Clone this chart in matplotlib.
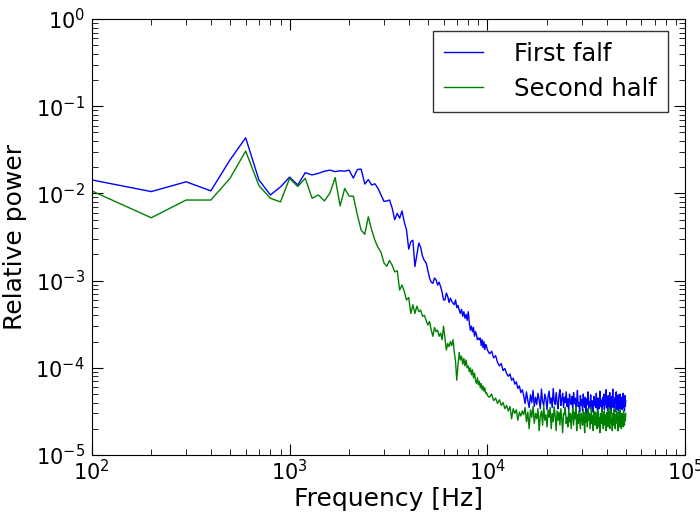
import numpy as np
import matplotlib
matplotlib.use('Agg')
import matplotlib.pyplot as plt

# frequency grid (Hz)
freq = np.concatenate([np.arange(100, 10001, 100), np.arange(10250, 50001, 250)])

# first half, 100 Hz .. 10 kHz
first_low = [0.0143, 0.0105, 0.0136, 0.0107, 0.0242, 0.0435, 0.0143, 0.0096, 0.0119, 0.0154,
             0.0125, 0.0173, 0.0163, 0.0170, 0.0180, 0.0185, 0.0178, 0.0182, 0.0180, 0.0185,
             0.0150, 0.0188, 0.0190, 0.0128, 0.0144, 0.0125, 0.0129, 0.0114, 0.0096, 0.0081,
             0.0082, 0.0084, 0.0068, 0.0050, 0.0059, 0.0052, 0.0063, 0.0047, 0.0038, 0.0023,
             0.0028, 0.0029, 0.00145, 0.0020, 0.0027, 0.0024, 0.0019, 0.0017, 0.0016, 0.0013,
             0.00107, 0.00096, 0.00093, 0.00107, 0.00102, 0.00089, 0.00096, 0.00085, 0.00074, 0.00060,
             0.00060, 0.00072, 0.00066, 0.00056, 0.00063, 0.00058, 0.00055, 0.00053, 0.00060, 0.00049,
             0.00052, 0.00046, 0.00042, 0.00047, 0.00039, 0.00044, 0.00037, 0.00041, 0.00035, 0.00044,
             0.00033, 0.00027, 0.00030, 0.00026, 0.00029, 0.00023, 0.00026, 0.00024, 0.00021, 0.00022,
             0.00021, 0.00022, 0.00018, 0.00021, 0.00017, 0.00020, 0.000162, 0.000185, 0.000175, 0.000160]
# first half, 10.25 kHz .. 50 kHz (units of 1e-5)
first_high = [14.5, 15.5, 13.0, 13.8, 11.5, 10.5, 11.2, 9.3, 9.8, 8.6,
              8.0, 8.5, 7.2, 7.6, 6.5, 6.9, 5.8, 6.2, 5.2, 5.6,
              4.8, 3.9, 5.3, 4.2, 3.5, 4.9, 4.0, 5.5, 3.6, 4.6,
              3.8, 5.1, 4.3, 3.4, 5.7, 4.1, 3.7, 5.0, 4.4, 3.3,
              4.7, 5.4, 3.9, 4.5, 3.5, 5.8, 4.2, 3.8, 5.2, 4.0,
              3.4, 4.9, 5.6, 3.7, 4.3, 5.1, 3.5, 4.6, 4.0, 5.3,
              3.6, 4.4, 3.2, 5.0, 4.1, 3.8, 4.7, 3.3, 5.2, 3.9,
              4.5, 3.4, 4.2, 5.5, 3.6, 4.0, 3.1, 4.8, 3.7, 4.3,
              3.2, 5.0, 3.9, 3.5, 4.6, 3.0, 4.4, 3.8, 5.3, 3.4,
              4.1, 3.6, 4.9, 3.3, 4.2, 3.9, 3.1, 4.7, 3.7, 4.4,
              3.5, 5.1, 3.8, 3.2, 4.5, 4.0, 3.4, 5.4, 3.6, 4.3,
              3.9, 3.1, 4.6, 3.7, 5.0, 3.3, 4.2, 3.8, 5.6, 3.5,
              4.4, 3.2, 4.8, 3.6, 4.1, 5.2, 3.4, 4.5, 3.0, 4.7,
              3.8, 5.7, 3.5, 4.3, 3.9, 3.1, 4.6, 4.0, 5.3, 3.3,
              4.2, 3.7, 4.9, 3.2, 4.4, 3.6, 5.0, 3.4, 4.1, 3.8,
              4.6, 3.3, 4.0, 5.1, 3.5, 4.3, 3.2, 4.8, 3.6, 4.2]

# second half, 100 Hz .. 10 kHz
second_low = [0.0107, 0.00526, 0.0084, 0.0084, 0.0149, 0.0306, 0.0123, 0.0088, 0.0080, 0.0149,
              0.0120, 0.0149, 0.0088, 0.0096, 0.0082, 0.0101, 0.0152, 0.0072, 0.0114, 0.0093,
              0.0093, 0.0057, 0.0038, 0.0034, 0.0054, 0.0038, 0.0029, 0.0024, 0.0021, 0.0016,
              0.00146, 0.0017, 0.0015, 0.00126, 0.0013, 0.00078, 0.00089, 0.00075, 0.00060, 0.00064,
              0.00042, 0.00053, 0.00042, 0.00051, 0.00044, 0.00046, 0.00039, 0.00040, 0.00035, 0.00031,
              0.00034, 0.00027, 0.00023, 0.00029, 0.00026, 0.00027, 0.00023, 0.00025, 0.00021, 0.00030,
              0.00022, 0.00016, 0.00019, 0.000175, 0.00020, 0.00018, 0.00021, 0.000152, 0.000118, 0.000072,
              0.000108, 0.000150, 0.000123, 0.000136, 0.000110, 0.000128, 0.000105, 0.000123, 0.000100, 0.000105,
              0.000090, 0.000100, 0.000083, 0.000095, 0.000077, 0.000087, 0.000072, 0.000066, 0.000077, 0.000064,
              0.000070, 0.000059, 0.000066, 0.000056, 0.000062, 0.000054, 0.000059, 0.000051, 0.000052, 0.000048]
# second half, 10.25 kHz .. 50 kHz (units of 1e-5)
second_high = [4.6, 5.0, 4.2, 4.5, 3.9, 4.3, 3.7, 4.0, 3.4, 3.7,
               3.2, 3.6, 2.6, 3.4, 3.0, 3.3, 2.5, 3.1, 2.8, 3.2,
               2.9, 3.5, 2.4, 3.1, 2.0, 3.3, 2.7, 3.6, 2.3, 3.0,
               2.6, 3.4, 1.9, 2.8, 3.2, 2.2, 3.7, 2.5, 2.9, 2.1,
               3.3, 2.7, 3.5, 2.0, 3.0, 2.4, 3.6, 2.8, 1.9, 3.2,
               2.5, 3.1, 2.2, 3.4, 2.6, 1.8, 3.0, 2.9, 3.5, 2.3,
               2.7, 2.1, 3.3, 2.4, 3.0, 2.0, 2.8, 3.4, 2.2, 3.1,
               2.6, 3.6, 1.9, 2.9, 2.3, 3.2, 2.5, 2.0, 3.0, 2.7,
               2.2, 3.3, 2.6, 1.8, 3.1, 2.4, 2.9, 2.1, 3.4, 2.5,
               3.0, 2.0, 2.7, 3.5, 2.3, 2.8, 1.9, 3.2, 2.6, 2.2,
               3.1, 2.4, 2.0, 2.9, 3.3, 2.1, 2.7, 1.8, 3.0, 2.5,
               2.3, 3.4, 2.6, 2.0, 2.8, 3.2, 2.2, 2.9, 1.9, 2.7,
               3.1, 2.4, 2.1, 3.5, 2.5, 2.0, 2.8, 3.3, 2.3, 2.6,
               1.9, 3.0, 2.6, 2.2, 3.4, 2.4, 2.0, 2.9, 2.5, 3.2,
               2.3, 2.7, 1.9, 3.1, 2.5, 2.1, 3.3, 2.4, 2.8, 2.0,
               3.0, 2.4, 2.7, 2.1, 3.2, 2.6, 2.2, 2.9, 2.5, 3.0]

first = np.concatenate([first_low, np.array(first_high) * 1e-5])
second = np.concatenate([second_low, np.array(second_high) * 1e-5])

plt.rcParams['mathtext.default'] = 'regular'

fig = plt.figure(figsize=(7, 5.15), dpi=100)
ax = fig.add_axes([0.131, 0.1165, 0.848, 0.8465])

ax.loglog(freq, first, color='#0000ff', lw=1, label='First falf')
ax.loglog(freq, second, color='#008000', lw=1, label='Second half')

ax.set_xlim(1e2, 1e5)
ax.set_ylim(1e-5, 1)
ax.tick_params(which='both', direction='in', top=True, right=True, labelsize=15)
ax.tick_params(which='major', length=8)
ax.tick_params(which='minor', length=4)
ax.tick_params(axis='x', which='major', pad=3)
ax.tick_params(axis='y', which='major', pad=5)
ax.set_xlabel('Frequency [Hz]', fontsize=18, labelpad=2)
ax.set_ylabel('Relative power', fontsize=18, labelpad=6)

leg = ax.legend(loc='upper right', fontsize=17.5, fancybox=False, handlelength=1.6,
                handletextpad=1.3, borderpad=0.45, labelspacing=0.45,
                bbox_to_anchor=(668 / 700, 1 - 31 / 515), bbox_transform=fig.transFigure,
                borderaxespad=0)
leg.get_frame().set_edgecolor('black')
leg.get_frame().set_linewidth(1)

fig.savefig('out.png', dpi=100)
